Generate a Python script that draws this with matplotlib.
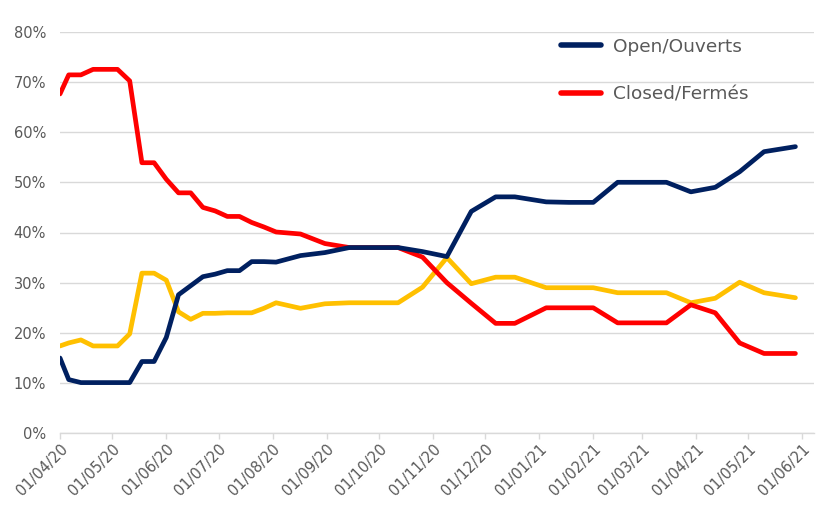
import matplotlib
matplotlib.use("Agg")
import matplotlib.pyplot as plt
import matplotlib.dates as mdates
import pandas as pd
from matplotlib.ticker import FuncFormatter

dates = ["2020-04-01", "2020-04-06", "2020-04-13", "2020-04-20", "2020-04-27",
         "2020-05-04", "2020-05-11", "2020-05-18", "2020-05-25", "2020-06-01",
         "2020-06-08", "2020-06-15", "2020-06-22", "2020-06-29", "2020-07-06",
         "2020-07-13", "2020-07-20", "2020-07-27", "2020-08-03", "2020-08-17",
         "2020-08-31", "2020-09-14", "2020-09-28", "2020-10-12", "2020-10-26",
         "2020-11-09", "2020-11-23", "2020-12-07", "2020-12-18", "2021-01-05",
         "2021-01-18", "2021-02-01", "2021-02-15", "2021-03-01", "2021-03-15",
         "2021-03-29", "2021-04-12", "2021-04-26", "2021-05-10", "2021-05-28"]

open_vals = [15.0, 10.7, 10.1, 10.1, 10.1, 10.1, 10.1, 14.3, 14.3, 19.1,
             27.6, 29.4, 31.2, 31.7, 32.4, 32.4, 34.2, 34.2, 34.1, 35.4,
             36.0, 37.0, 37.0, 37.0, 36.2, 35.2, 44.2, 47.1, 47.1, 46.1,
             46.0, 46.0, 50.0, 50.0, 50.0, 48.1, 49.0, 52.1, 56.1, 57.1]

closed_vals = [67.6, 71.4, 71.4, 72.5, 72.5, 72.5, 70.2, 53.9, 53.9, 50.6,
               47.9, 47.9, 45.0, 44.3, 43.2, 43.2, 42.0, 41.1, 40.1, 39.7,
               37.8, 37.0, 37.0, 37.0, 35.1, 30.0, 25.9, 21.9, 21.9, 25.0,
               25.0, 25.0, 22.0, 22.0, 22.0, 25.6, 24.0, 18.0, 15.9, 15.9]

other_vals = [17.4, 18.0, 18.6, 17.4, 17.4, 17.4, 19.8, 31.9, 31.9, 30.5,
              24.2, 22.7, 23.9, 23.9, 24.0, 24.0, 24.0, 24.9, 26.0, 24.9,
              25.8, 26.0, 26.0, 26.0, 29.1, 35.0, 29.8, 31.1, 31.1, 29.0,
              29.0, 29.0, 28.0, 28.0, 28.0, 26.0, 26.9, 30.1, 28.0, 27.0]

series_labels = ["Open/Ouverts", "Closed/Fermés"]

x = pd.to_datetime(dates)

plt.rcParams['font.family'] = ['DejaVu Sans']

fig = plt.figure(figsize=(8.34, 5.14), dpi=100)
ax = fig.add_axes([60/834, 1-433.3/514, (814-60)/834, (433.3-31.7)/514])

lw = 3.4
ax.plot(x, other_vals, color="#FFC000", lw=lw, solid_joinstyle="round",
        solid_capstyle="round", zorder=3)
ax.plot(x, closed_vals, color="#FF0000", lw=lw, solid_joinstyle="round",
        solid_capstyle="round", zorder=4, label=series_labels[1])
ax.plot(x, open_vals, color="#002060", lw=lw, solid_joinstyle="round",
        solid_capstyle="round", zorder=5, label=series_labels[0])

ax.set_ylim(0, 80)
ax.set_yticks(range(0, 81, 10))
ax.yaxis.set_major_formatter(FuncFormatter(lambda v, p: f"{int(v)}%"))
ax.set_xlim(pd.Timestamp("2020-04-01"), pd.Timestamp("2021-06-07 16:00"))
ax.xaxis.set_major_locator(mdates.MonthLocator(bymonthday=1))
ax.xaxis.set_major_formatter(mdates.DateFormatter("%d/%m/%y"))

ax.grid(axis="y", color="#D9D9D9", lw=1.0)
ax.set_axisbelow(True)
for s in ["left", "right", "top"]:
    ax.spines[s].set_visible(False)
ax.spines["bottom"].set_color("#D9D9D9")
ax.spines["bottom"].set_linewidth(1.0)

ax.tick_params(axis="y", length=0, pad=10, labelsize=10.5, labelcolor="#595959")
ax.tick_params(axis="x", length=4, width=1.0, color="#D9D9D9", pad=2,
               labelsize=10.5, labelcolor="#595959")
for lab in ax.get_xticklabels():
    lab.set_rotation(45)
    lab.set_ha("right")
    lab.set_va("top")
    lab.set_rotation_mode("anchor")

handles, labels = ax.get_legend_handles_labels()
order = [1, 0]
leg = ax.legend([handles[i] for i in order], [labels[i] for i in order],
                loc="upper left", bbox_to_anchor=(484/754, 1.026),
                frameon=False, fontsize=13.3, handlelength=2.2,
                handletextpad=0.65, labelspacing=1.6, labelcolor="#595959")
for line in leg.get_lines():
    line.set_linewidth(4)
    line.set_solid_capstyle("round")

fig.savefig("out.png", dpi=100)
